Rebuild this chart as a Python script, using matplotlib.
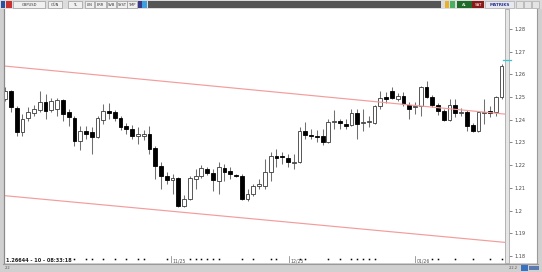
import matplotlib
matplotlib.use('Agg')
import matplotlib.pyplot as plt
from matplotlib.patches import Rectangle
from matplotlib.lines import Line2D
import numpy as np

W, H = 542, 272

# ---- data (daily GBPUSD candles) ----
opens = [1.2491, 1.2526, 1.2452, 1.2346, 1.2407, 1.2430, 1.2443, 1.2478, 1.2443, 1.2447,
         1.2487, 1.2434, 1.2407, 1.2306, 1.2350, 1.2346, 1.2324, 1.2399, 1.2438, 1.2434,
         1.2407, 1.2372, 1.2359, 1.2328, 1.2328, 1.2337, 1.2275, 1.2196, 1.2152, 1.2134,
         1.2143, 1.2020, 1.2051, 1.2139, 1.2152, 1.2183, 1.2165, 1.2130, 1.2187, 1.2174,
         1.2156, 1.2152, 1.2051, 1.2073, 1.2108, 1.2108, 1.2170, 1.2240, 1.2240, 1.2231,
         1.2209, 1.2214, 1.2350, 1.2333, 1.2328, 1.2328, 1.2302, 1.2390, 1.2394, 1.2381,
         1.2377, 1.2430, 1.2385, 1.2390, 1.2385, 1.2460, 1.2500, 1.2526, 1.2491, 1.2504,
         1.2465, 1.2456, 1.2460, 1.2544, 1.2500, 1.2465, 1.2438, 1.2399, 1.2465, 1.2430,
         1.2434, 1.2377, 1.2350, 1.2430, 1.2438, 1.2434, 1.2500]
highs = [1.2544, 1.2531, 1.2460, 1.2425, 1.2456, 1.2465, 1.2526, 1.2513, 1.2496, 1.2496,
         1.2491, 1.2447, 1.2416, 1.2372, 1.2372, 1.2368, 1.2416, 1.2469, 1.2474, 1.2443,
         1.2416, 1.2385, 1.2377, 1.2368, 1.2355, 1.2372, 1.2284, 1.2214, 1.2170, 1.2161,
         1.2148, 1.2068, 1.2152, 1.2183, 1.2200, 1.2192, 1.2183, 1.2214, 1.2205, 1.2192,
         1.2161, 1.2161, 1.2095, 1.2117, 1.2139, 1.2227, 1.2258, 1.2271, 1.2258, 1.2249,
         1.2249, 1.2368, 1.2390, 1.2359, 1.2355, 1.2359, 1.2403, 1.2443, 1.2403, 1.2403,
         1.2447, 1.2447, 1.2447, 1.2416, 1.2465, 1.2526, 1.2522, 1.2544, 1.2518, 1.2522,
         1.2478, 1.2478, 1.2548, 1.2570, 1.2509, 1.2474, 1.2447, 1.2491, 1.2491, 1.2452,
         1.2443, 1.2385, 1.2438, 1.2491, 1.2460, 1.2504, 1.2645]
lows = [1.2482, 1.2434, 1.2328, 1.2328, 1.2394, 1.2416, 1.2434, 1.2403, 1.2434, 1.2416,
        1.2394, 1.2372, 1.2284, 1.2267, 1.2315, 1.2249, 1.2319, 1.2381, 1.2403, 1.2394,
        1.2355, 1.2337, 1.2315, 1.2293, 1.2311, 1.2249, 1.2139, 1.2095, 1.2117, 1.2073,
        1.2015, 1.2015, 1.2046, 1.2095, 1.2143, 1.2156, 1.2086, 1.2073, 1.2130, 1.2139,
        1.2148, 1.2046, 1.2042, 1.2064, 1.2095, 1.2095, 1.2130, 1.2192, 1.2205, 1.2192,
        1.2183, 1.2209, 1.2315, 1.2315, 1.2302, 1.2289, 1.2297, 1.2359, 1.2359, 1.2359,
        1.2372, 1.2315, 1.2350, 1.2368, 1.2381, 1.2447, 1.2474, 1.2491, 1.2482, 1.2460,
        1.2403, 1.2425, 1.2416, 1.2496, 1.2456, 1.2421, 1.2394, 1.2394, 1.2412, 1.2416,
        1.2350, 1.2346, 1.2346, 1.2381, 1.2412, 1.2416, 1.2491]
closes = [1.2526, 1.2456, 1.2346, 1.2403, 1.2434, 1.2447, 1.2478, 1.2438, 1.2482, 1.2487,
          1.2425, 1.2412, 1.2306, 1.2350, 1.2337, 1.2324, 1.2407, 1.2438, 1.2430, 1.2407,
          1.2368, 1.2359, 1.2328, 1.2337, 1.2337, 1.2271, 1.2196, 1.2152, 1.2134, 1.2143,
          1.2020, 1.2051, 1.2143, 1.2152, 1.2187, 1.2165, 1.2134, 1.2192, 1.2170, 1.2161,
          1.2152, 1.2051, 1.2073, 1.2108, 1.2117, 1.2170, 1.2240, 1.2231, 1.2236, 1.2214,
          1.2214, 1.2350, 1.2333, 1.2328, 1.2324, 1.2302, 1.2390, 1.2394, 1.2385, 1.2372,
          1.2430, 1.2381, 1.2390, 1.2394, 1.2460, 1.2496, 1.2491, 1.2496, 1.2504, 1.2469,
          1.2447, 1.2460, 1.2544, 1.2500, 1.2465, 1.2438, 1.2399, 1.2465, 1.2430, 1.2434,
          1.2372, 1.2350, 1.2434, 1.2434, 1.2430, 1.2500, 1.2637]

price_ticks = [1.18, 1.19, 1.20, 1.21, 1.22, 1.23, 1.24, 1.25, 1.26, 1.27, 1.28]
price_labels = ['1.18', '1.19', '1.2', '1.21', '1.22', '1.23', '1.24', '1.25', '1.26', '1.27', '1.28']
date_labels = ['11/25', '12/25', '01/26']
date_index = [28.8, 49.2, 71.0]
marker_index = [12, 14, 15, 17, 19, 21, 23, 24, 28, 32, 33, 34, 35, 36, 37, 41, 43, 46, 47,
                51, 52, 56, 58, 60, 61, 62, 63, 64, 74, 75, 78, 81, 84, 86]
upper_channel = [1.2637, 1.2425]
lower_channel = [1.2066, 1.1860]
last_price = 1.26644
status_text = '1.26644 - 10 - 08:33:18'
symbol = 'GBPUSD'

XMIN, XMAX = -0.2, 86.6
YMIN, YMAX = 1.1804, 1.2888


def frect(x0, y0, x1, y1, **kw):
    """rectangle in pixel coords (top-left origin) as figure artist"""
    r = Rectangle((x0 / W, 1 - y1 / H), (x1 - x0) / W, (y1 - y0) / H,
                  transform=fig.transFigure, **kw)
    fig.add_artist(r)
    return r


def ftext(x, y, s, **kw):
    fig.text(x / W, 1 - y / H, s, **kw)


def fline(x0, y0, x1, y1, **kw):
    fig.add_artist(Line2D([x0 / W, x1 / W], [1 - y0 / H, 1 - y1 / H],
                          transform=fig.transFigure, **kw))


fig = plt.figure(figsize=(W / 100, H / 100), dpi=100, facecolor='#d0d0d0')

# right price panel background
frect(505, 9, 537, 263, facecolor='white', edgecolor='none', zorder=-2)

# ---- main chart ----
ax = fig.add_axes([4 / W, 1 - 256 / H, 501 / W, 247 / H])
ax.set_facecolor('white')
ax.set_xlim(XMIN, XMAX)
ax.set_ylim(YMIN, YMAX)

idx = np.arange(len(opens))
o = np.array(opens); c = np.array(closes)
hi = np.array(highs); lo = np.array(lows)
up = c >= o

ax.vlines(idx, lo, hi, color='#707070', lw=0.75, zorder=2)
body_bottom = np.minimum(o, c)
body_h = np.maximum(np.abs(c - o), 0.00035)
ax.bar(idx[up], body_h[up], bottom=body_bottom[up], width=0.66,
       facecolor='white', edgecolor='#3a3a3a', lw=0.6, zorder=3)
ax.bar(idx[~up], body_h[~up], bottom=body_bottom[~up], width=0.66,
       facecolor='black', edgecolor='black', lw=0.6, zorder=3)

# channel lines
ax.plot([XMIN, XMAX], upper_channel, color='#f39c9c', lw=0.85, zorder=4)
ax.plot([XMIN, XMAX], lower_channel, color='#f39c9c', lw=0.85, zorder=4)

ax.set_xticks([])
ax.yaxis.tick_right()
ax.set_yticks(price_ticks)
ax.set_yticklabels(price_labels)
ax.tick_params(axis='y', direction='out', length=5, width=0.5, pad=1.5,
               labelsize=3.6, colors='#555555', labelcolor='#444444')
for s in ['top', 'right']:
    ax.spines[s].set_visible(False)
ax.spines['left'].set_color('#8a8a8a')
ax.spines['bottom'].set_color('#b0b0b0')
ax.spines['left'].set_linewidth(0.8)
ax.spines['bottom'].set_linewidth(0.6)

# separator band between chart and price scale
frect(505, 9, 509, 263, facecolor='#e6e6e6', edgecolor='#a8a8a8', lw=0.6, zorder=5)
# last price marker
ylast = 1 - (9 + (YMAX - last_price) / (YMAX - YMIN) * 247) / H
fig.add_artist(Line2D([503 / W, 511 / W], [ylast, ylast], transform=fig.transFigure,
                      color='#33c6d6', lw=0.9, zorder=6))

# ---- time strip ----
axt = fig.add_axes([4 / W, 1 - 263 / H, 501 / W, 7 / H])
axt.set_facecolor('white')
axt.set_xlim(XMIN, XMAX)
axt.set_ylim(0, 1)
axt.plot(marker_index, [0.6] * len(marker_index), 's', color='black', ms=1.1, mew=0)
for lab, xi in zip(date_labels, date_index):
    axt.plot([xi, xi], [0.05, 0.95], color='#777777', lw=0.5)
    axt.text(xi + 0.25, 0.35, lab, fontsize=3.3, color='#555555', va='center', ha='left')
axt.text(0.1, 0.4, status_text, fontsize=3.6, fontweight='bold', color='#222222',
         va='center', ha='left')
axt.set_xticks([]); axt.set_yticks([])
for s in axt.spines.values():
    s.set_visible(False)
axt.spines['left'].set_visible(True)
axt.spines['left'].set_color('#8a8a8a')

# ---- frame lines ----
fline(3.5, 9, 3.5, 263, color='#8a8a8a', lw=0.8, zorder=7)
fline(537, 9, 537, 263, color='#9a9a9a', lw=0.8, zorder=7)
fline(3, 263.5, 538, 263.5, color='#9a9a9a', lw=0.8, zorder=7)

# ---- toolbar ----
frect(0, 0, 542, 9, facecolor='#dcdcdc', edgecolor='none', zorder=1)
frect(148, 1, 441, 8, facecolor='#555555', edgecolor='none', zorder=2)
frect(1, 1.5, 5, 7.5, facecolor='#2c4fa0', edgecolor='none', zorder=2)
frect(6, 1.5, 12, 7.5, facecolor='#c83232', edgecolor='none', zorder=2)
boxes = [(13, 45, symbol), (48, 62, 'GÜN'), (68, 82, 'TL'), (85, 94, 'LIN'),
         (95, 106, 'ERR'), (107, 116, 'SVB'), (117, 127, 'SYST'), (127, 137, 'TMP')]
for x0, x1, s in boxes:
    frect(x0, 1.5, x1, 7.5, facecolor='#f0f0f0', edgecolor='#8a8a8a', lw=0.4, zorder=2)
    ftext((x0 + x1) / 2, 4.6, s, fontsize=2.6, color='#333333', ha='center', va='center', zorder=3)
frect(138, 1.5, 142, 7.5, facecolor='#3a3a8a', edgecolor='none', zorder=2)
frect(142, 1.5, 147, 7.5, facecolor='#3aa0e0', edgecolor='none', zorder=2)

frect(445, 1.5, 449, 7.5, facecolor='#e8b030', edgecolor='none', zorder=2)
frect(450, 1.5, 455, 7.5, facecolor='#4ab060', edgecolor='none', zorder=2)
frect(457, 1.5, 472, 7.5, facecolor='#1f6b2a', edgecolor='none', zorder=2)
ftext(464.5, 4.6, 'AL', fontsize=2.8, color='white', ha='center', va='center', zorder=3)
frect(472, 1.5, 484, 7.5, facecolor='#8b1a1a', edgecolor='none', zorder=2)
ftext(478, 4.6, 'SAT', fontsize=2.8, color='white', ha='center', va='center', zorder=3)
frect(485, 1.5, 514, 7.5, facecolor='#e8e8f0', edgecolor='#a0a0a0', lw=0.4, zorder=2)
ftext(499.5, 4.6, 'MATRIKS', fontsize=3.0, color='#2a3a8a', fontweight='bold',
      ha='center', va='center', zorder=3)
for bx in [516, 524, 532]:
    frect(bx, 1.5, bx + 7, 7.5, facecolor='#e4e4e4', edgecolor='#a0a0a0', lw=0.4, zorder=2)

# ---- bottom bar ----
ftext(5, 268, '2.2', fontsize=2.6, color='#555555', ha='left', va='center')
ftext(509, 268, '2.2.2', fontsize=2.6, color='#555555', ha='left', va='center')
frect(521, 264.5, 528, 270.5, facecolor='#3a70c0', edgecolor='none', zorder=2)
frect(529, 265.5, 539, 269.5, facecolor='#5a7ab0', edgecolor='none', zorder=2)

fig.savefig('out.png', dpi=100, facecolor=fig.get_facecolor())
